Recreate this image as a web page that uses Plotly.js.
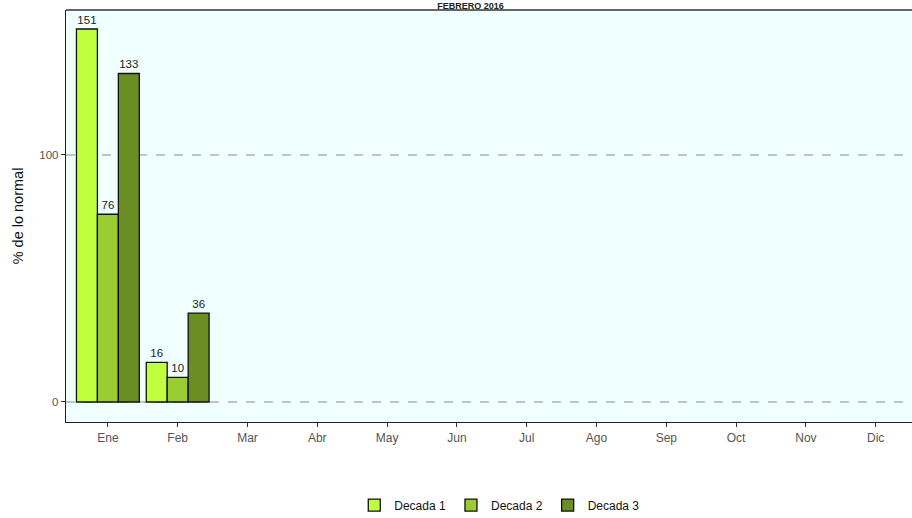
<!DOCTYPE html>
<html>
<head>
<meta charset="utf-8">
<script src="https://cdn.plot.ly/plotly-3.0.1.min.js"></script>
<style>html,body{margin:0;padding:0;background:#fff;}#chart{width:912px;height:518px;}</style>
</head>
<body>
<div id="chart"></div>
<script>
const months = ["Ene","Feb","Mar","Abr","May","Jun","Jul","Ago","Sep","Oct","Nov","Dic"];
const decada1 = [151, 16, null, null, null, null, null, null, null, null, null, null];
const decada2 = [76, 10, null, null, null, null, null, null, null, null, null, null];
const decada3 = [133, 36, null, null, null, null, null, null, null, null, null, null];
const seriesNames = ["Decada 1","Decada 2","Decada 3"];
const colors = ["#c0ff3e","#9acd32","#6b8e23"];
const titleText = "FEBRERO 2016";

const data = [decada1, decada2, decada3].map((vals, i) => ({
  type: "bar",
  name: seriesNames[i],
  x: months,
  y: vals,
  marker: {color: colors[i], line: {color: "#111", width: 1.3}},
  text: vals.map(v => v == null ? "" : String(v)),
  textposition: "outside",
  cliponaxis: false,
  textfont: {family: "Liberation Sans, Arial, sans-serif", size: 11.5, color: "#222"}
}));

const layout = {
  width: 912, height: 518,
  margin: {l: 66, r: 0, t: 10, b: 96},
  paper_bgcolor: "#ffffff",
  plot_bgcolor: "#f0ffff",
  barmode: "group",
  bargap: 0.1,
  bargroupgap: 0,
  showlegend: true,
  title: {
    text: "<b>" + titleText + "</b>",
    x: 0.516, xref: "container", xanchor: "center",
    y: 0.9895, yref: "container", yanchor: "middle",
    font: {family: "Liberation Sans, Arial, sans-serif", size: 9, color: "#222"}
  },
  xaxis: {
    type: "category",
    categoryorder: "array", categoryarray: months,
    range: [-0.6, 11.52],
    showline: true, linecolor: "#222", linewidth: 1.2,
    ticks: "outside", ticklen: 4, tickcolor: "#333",
    showgrid: false, zeroline: false,
    tickfont: {family: "Liberation Sans, Arial, sans-serif", size: 12, color: "#555"}
  },
  yaxis: {
    range: [-8.1, 158.7],
    tickvals: [0, 100],
    ticktext: ["0", "100"],
    showline: true, linecolor: "#222", linewidth: 1.2,
    ticks: "outside", ticklen: 4, tickcolor: "#333",
    showgrid: false, zeroline: false,
    tickfont: {family: "Liberation Sans, Arial, sans-serif", size: 11.5, color: "#555"},
    title: {text: "% de lo normal", standoff: 12,
      font: {family: "Liberation Sans, Arial, sans-serif", size: 14.5, color: "#111"}}
  },
  shapes: [
    {type: "line", xref: "paper", yref: "y", x0: 0, x1: 1, y0: 0, y1: 0,
     line: {color: "#8a8a8a", width: 1, dash: "dash"}, layer: "below"},
    {type: "line", xref: "paper", yref: "y", x0: 0, x1: 1, y0: 100, y1: 100,
     line: {color: "#8a8a8a", width: 1, dash: "dash"}, layer: "below"},
    {type: "line", xref: "paper", yref: "paper", x0: 0, x1: 1, y0: 1, y1: 1,
     line: {color: "#666", width: 2}}
  ],
  legend: {
    orientation: "h",
    x: 0.548, xref: "container", xanchor: "center",
    y: 0.025, yref: "container", yanchor: "middle",
    font: {family: "Liberation Sans, Arial, sans-serif", size: 12, color: "#111"},
    itemwidth: 30, tracegroupgap: 0
  }
};

Plotly.newPlot("chart", data, layout, {displayModeBar: false, staticPlot: true});
</script>
</body>
</html>
